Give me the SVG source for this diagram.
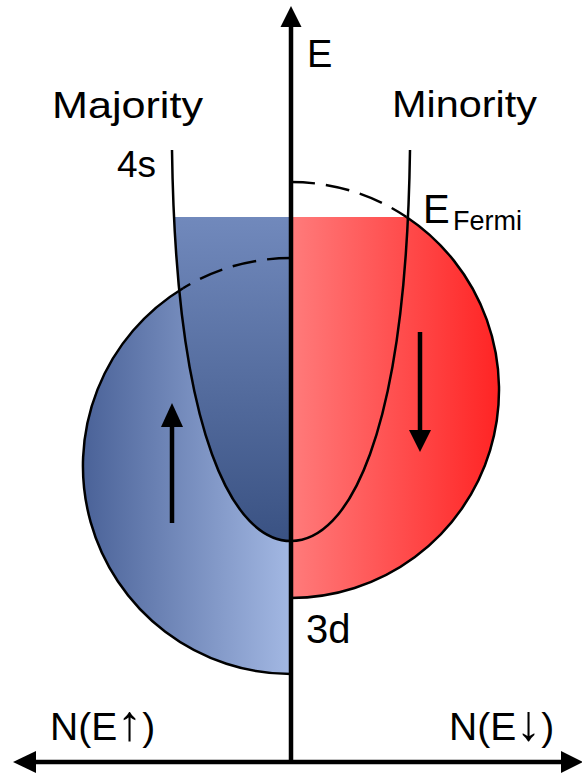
<svg xmlns="http://www.w3.org/2000/svg" width="582" height="774" viewBox="0 0 582 774">
<style>
.t{font-family:"Liberation Sans",Arial,sans-serif;fill:#000}
.ln{fill:none;stroke:#000;stroke-width:2.5}
.dash{fill:none;stroke:#000;stroke-width:2.5;stroke-dasharray:24 11}
.ax{stroke:#000;stroke-width:4.5;fill:none}
.arr{font-size:50px}
</style>
<defs>
<linearGradient id="gBlue" gradientUnits="userSpaceOnUse" x1="83" y1="0" x2="291" y2="0">
<stop offset="0" stop-color="#4a6298"/><stop offset="1" stop-color="#a3b8e3"/>
</linearGradient>
<linearGradient id="gPar" gradientUnits="userSpaceOnUse" x1="0" y1="217" x2="0" y2="541">
<stop offset="0" stop-color="#7189bc"/><stop offset="1" stop-color="#3a5283"/>
</linearGradient>
<linearGradient id="gRed" gradientUnits="userSpaceOnUse" x1="291" y1="0" x2="499" y2="0">
<stop offset="0" stop-color="#ff7b7b"/><stop offset="1" stop-color="#ff2424"/>
</linearGradient>
<clipPath id="cFermi"><rect x="0" y="217" width="291" height="560"/></clipPath>
</defs>
<rect width="582" height="774" fill="#fff"/>

<g id="majority-3d">
<path d="M291,258 A208,208 0 0 0 291,674 Z" fill="url(#gBlue)"/>
<path d="M172,150 C176,440 235,541 291,541 L291,150 Z" fill="url(#gPar)" clip-path="url(#cFermi)"/>
<path class="dash" d="M291,258 A208,208 0 0 0 183,288.2"/>
<path class="ln" d="M183,288.2 A208,208 0 0 0 291,674"/>
</g>

<g id="minority-3d">
<path d="M291,217 L406.5,217 A208,208 0 0 1 291,598 Z" fill="url(#gRed)"/>
<path class="dash" d="M291,182 A208,208 0 0 1 406.5,217"/>
<path class="ln" d="M406.5,217 A208,208 0 0 1 291,598"/>
</g>

<g id="band-4s">
<path class="ln" d="M172,150 C176,440 235,541 291,541 C347,541 406,440 410,150"/>
</g>

<g id="spin-arrows">
<line x1="172" y1="523" x2="172" y2="424" stroke="#000" stroke-width="4.5"/>
<polygon points="172,403 161,427 183,427" fill="#000"/>
<line x1="420" y1="332" x2="420" y2="433" stroke="#000" stroke-width="4.5"/>
<polygon points="420,452 409,430 431,430" fill="#000"/>
</g>

<g id="axes">
<line class="ax" x1="291" y1="24" x2="291" y2="762"/>
<polygon points="291,6 280.5,27 301.5,27" fill="#000"/>
<line class="ax" x1="32" y1="762" x2="565" y2="762"/>
<polygon points="13,762 36,751 36,773" fill="#000"/>
<polygon points="583,762 561,751 561,773" fill="#000"/>
</g>

<g id="labels">
<text class="t" x="307" y="67" font-size="38">E</text>
<text class="t" x="52" y="118" font-size="37" textLength="151" lengthAdjust="spacingAndGlyphs">Majority</text>
<text class="t" x="392" y="117" font-size="37.5" textLength="145" lengthAdjust="spacingAndGlyphs">Minority</text>
<text class="t" x="117" y="177" font-size="37">4s</text>
<text class="t" x="306" y="643" font-size="40">3d</text>
<text class="t" x="423" y="223" font-size="40">E</text>
<text class="t" x="453" y="230" font-size="27">Fermi</text>
<text class="t" x="50" y="740" font-size="39">N(E<tspan class="arr">↑</tspan>)</text>
<text class="t" x="449" y="740" font-size="39">N(E<tspan class="arr">↓</tspan>)</text>
</g>
</svg>
